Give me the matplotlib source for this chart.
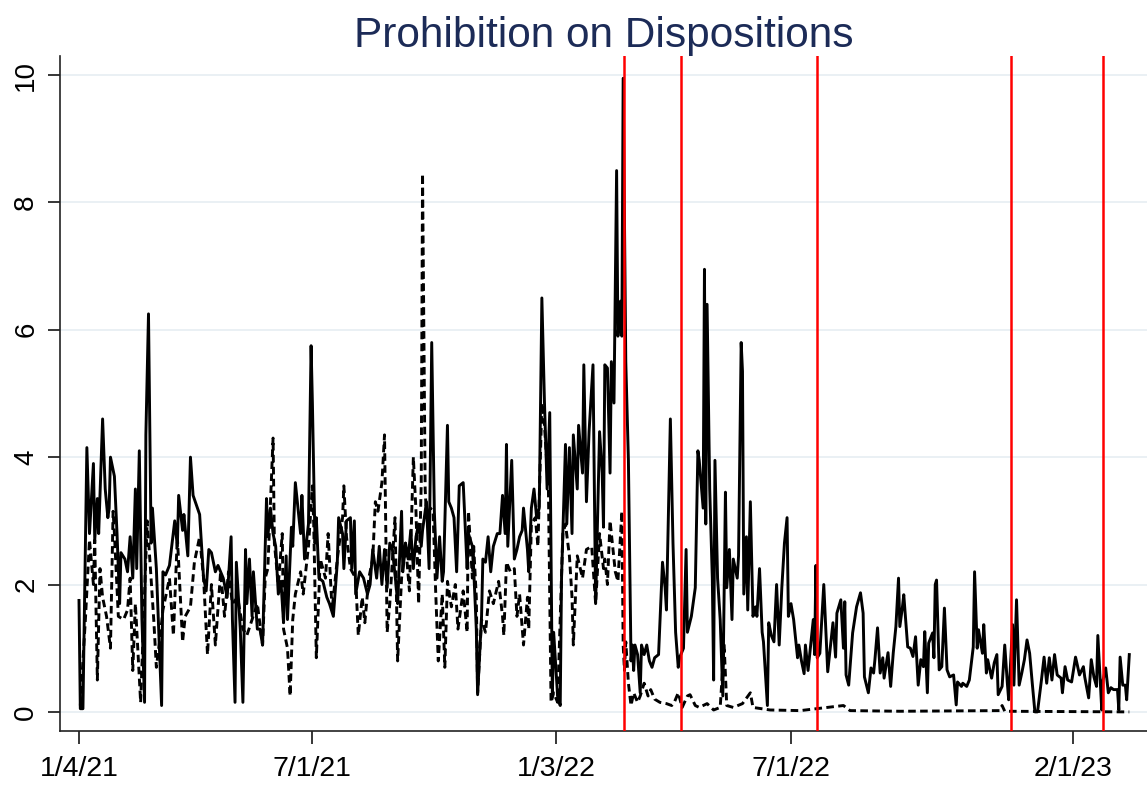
import matplotlib
matplotlib.use("Agg")
import matplotlib.pyplot as plt
import pandas as pd
import numpy as np

plt.rcParams['font.family'] = ['Liberation Sans', 'DejaVu Sans']

start = pd.Timestamp('2021-01-04')

# Solid series: days since 1/4/21 and values
solid_day = [0, 1, 3, 6, 8, 11, 12, 14, 15, 18, 20, 22, 23, 24, 27, 29, 31, 32, 35, 37, 39, 41, 43, 44, 46, 48, 50, 51, 53, 55,
             56, 59, 63, 64, 66, 69, 73, 75, 76, 79, 80, 83, 85, 87, 92, 95, 97, 99, 101, 104, 106, 110, 113, 114, 116, 117, 119, 120, 123, 125,
             127, 128, 130, 132, 133, 136, 138, 140, 141, 143, 144, 146, 148, 150, 152, 154, 156, 158, 159, 162, 163, 165, 167, 169, 170, 172, 175, 177, 178, 180,
             181, 183, 186, 189, 191, 194, 197, 198, 201, 202, 204, 207, 208, 210, 211, 214, 217, 220, 222, 224, 227, 229, 231, 233, 235, 237, 239, 242, 243, 246,
             247, 249, 251, 253, 255, 257, 259, 261, 262, 265, 267, 269, 271, 273, 275, 277, 278, 281, 282, 284, 286, 288, 290, 293, 296, 297, 300, 301, 303, 304,
             307, 308, 310, 312, 314, 316, 319, 321, 323, 325, 326, 327, 330, 332, 334, 336, 338, 339, 342, 343, 345, 347, 349, 351, 353, 355, 357, 359, 361, 362,
             365, 367, 368, 371, 372, 374, 376, 377, 380, 381, 384, 385, 387, 389, 392, 394, 396, 397, 399, 400, 401, 403, 405, 406, 408, 410, 411, 413, 414, 415,
             417, 419, 421, 422, 423, 424, 426, 428, 429, 431, 433, 435, 437, 439, 442, 445, 447, 448, 451, 453, 455, 457, 458, 461, 463, 464, 467, 470, 472, 473,
             476, 477, 478, 479, 481, 483, 484, 485, 487, 489, 491, 493, 494, 496, 498, 499, 502, 503, 505, 506, 507, 509, 510, 512, 514, 516, 517, 519, 521, 522,
             525, 526, 528, 530, 532, 534, 536, 538, 540, 541, 543, 545, 548, 549, 551, 553, 554, 556, 558, 560, 561, 562, 563, 565, 568, 571, 575, 577, 578, 581,
             583, 584, 585, 587, 590, 593, 596, 598, 599, 602, 604, 606, 607, 609, 611, 613, 614, 617, 619, 621, 623, 625, 626, 628, 629, 632, 634, 636, 638, 640,
             642, 644, 645, 647, 648, 651, 652, 653, 654, 656, 658, 660, 662, 664, 667, 669, 670, 673, 674, 677, 679, 682, 683, 685, 686, 689, 690, 692, 693, 696,
             698, 700, 701, 704, 706, 708, 709, 712, 713, 715, 717, 719, 721, 723, 725, 727, 729, 731, 734, 736, 738, 740, 742, 744, 746, 749, 750, 752, 754, 757,
             760, 761, 763, 766, 767, 770, 772, 774, 776, 777, 780, 781, 783, 785, 787, 789, 792, 793, 794, 796, 798, 799, 801]
solid_val = [1.75, 0.05, 0.05, 4.15, 2.8, 3.9, 2.7, 3.35, 2.8, 4.6, 3.5, 3.05, 3.2, 4.0, 3.7, 2.8, 1.7, 2.5, 2.4, 2.2, 2.75, 2.1, 3.5, 2.25, 4.1, 1.45, 0.15, 4.35, 6.25, 2.65,
             3.2, 2.25, 0.1, 2.2, 2.15, 2.3, 3.0, 2.6, 3.4, 2.85, 3.1, 2.45, 4.0, 3.4, 3.1, 2.1, 1.9, 2.55, 2.5, 2.2, 2.3, 2.1, 1.8, 2.1, 2.75, 1.45, 0.15, 2.35, 1.3, 0.15,
             2.55, 1.7, 2.4, 1.5, 2.2, 1.3, 1.3, 1.05, 1.8, 3.35, 2.75, 3.2, 2.8, 2.6, 1.85, 2.05, 1.4, 2.45, 1.45, 2.9, 2.6, 3.6, 3.2, 2.8, 3.4, 2.4, 2.95, 5.75, 4.85, 2.65,
             3.05, 2.1, 2.05, 1.8, 1.7, 1.5, 2.35, 3.05, 2.8, 2.25, 3.0, 3.05, 2.25, 3.0, 1.85, 2.2, 2.1, 1.85, 2.0, 2.55, 2.1, 2.6, 2.0, 2.55, 1.95, 2.65, 2.55, 1.95, 1.7, 3.15,
             2.2, 2.65, 2.4, 2.85, 2.25, 2.75, 2.95, 2.6, 2.85, 3.3, 2.25, 5.8, 3.15, 2.1, 2.75, 2.05, 2.2, 4.5, 3.3, 3.2, 3.05, 2.2, 3.55, 3.6, 2.25, 2.8, 2.6, 2.25, 1.3, 0.27,
             1.5, 2.4, 2.35, 2.75, 2.2, 2.6, 2.8, 2.8, 3.4, 2.8, 4.2, 2.6, 3.95, 2.4, 2.55, 2.75, 2.85, 3.2, 2.55, 2.2, 3.2, 3.5, 3.05, 3.2, 6.5, 4.85, 3.5, 4.7, 0.25, 1.25,
             0.25, 0.1, 2.1, 4.2, 2.95, 4.15, 2.8, 4.35, 3.5, 4.5, 3.75, 5.45, 3.3, 4.4, 5.45, 1.7, 3.5, 4.4, 3.75, 2.9, 5.45, 5.4, 3.75, 5.5, 4.85, 8.5, 5.9, 6.45, 5.9, 9.95,
             5.5, 3.95, 0.8, 1.05, 0.65, 1.05, 0.9, 0.3, 1.05, 0.9, 1.05, 0.8, 0.7, 0.85, 0.9, 2.35, 1.95, 1.6, 4.6, 2.65, 1.25, 0.7, 0.85, 1.0, 2.55, 1.25, 1.5, 1.95, 4.1, 3.95,
             3.2, 6.95, 2.95, 6.4, 3.5, 2.1, 0.5, 3.95, 2.1, 1.45, 0.25, 3.45, 1.95, 2.55, 1.45, 2.4, 2.1, 2.45, 5.8, 5.35, 1.85, 2.75, 1.6, 3.3, 1.5, 1.65, 1.5, 2.25, 1.25, 1.1,
             0.1, 1.4, 1.2, 1.1, 2.0, 1.05, 1.95, 2.65, 3.05, 1.5, 1.7, 1.45, 0.85, 1.05, 0.8, 0.6, 1.05, 0.65, 1.05, 1.45, 0.9, 2.3, 0.85, 0.92, 2.0, 0.63, 1.4, 0.86, 1.55, 1.76,
             1.0, 1.73, 0.58, 0.42, 1.24, 1.65, 1.87, 1.55, 0.55, 0.3, 0.69, 0.61, 0.82, 1.32, 0.61, 0.85, 0.53, 0.93, 0.4, 0.93, 1.34, 2.1, 1.34, 1.65, 1.84, 1.02, 1.0, 0.87, 1.18, 0.42,
             0.82, 0.71, 1.26, 0.3, 1.08, 1.24, 0.85, 2.0, 2.07, 0.66, 0.71, 1.63, 0.66, 0.55, 0.58, 0.11, 0.47, 0.4, 0.45, 0.4, 0.5, 1.02, 2.2, 1.0, 1.29, 0.92, 1.37, 0.61, 0.82, 0.53,
             0.77, 0.9, 0.27, 0.4, 1.05, 0.45, 0.19, 1.37, 0.42, 1.76, 0.42, 0.61, 0.82, 1.13, 0.92, 0.45, 0.0, 0.0, 0.5, 0.86, 0.45, 0.85, 0.5, 0.9, 0.58, 0.53, 0.3, 0.71, 0.5, 0.47,
             0.86, 0.77, 0.58, 0.71, 0.55, 0.22, 0.82, 0.55, 0.4, 1.2, 0.03, 0.5, 0.69, 0.3, 0.38, 0.35, 0.35, 0.03, 0.86, 0.42, 0.42, 0.19, 0.9]

# Dashed series: days since 1/4/21 and values
dash_day = [1, 5, 8, 11, 12, 14, 16, 18, 21, 24, 26, 27, 30, 34, 37, 39, 41, 43, 47, 52, 54, 57, 59, 62, 64, 66, 69, 72, 75, 79,
            81, 85, 88, 92, 95, 98, 101, 104, 108, 111, 114, 117, 121, 125, 128, 132, 136, 140, 142, 144, 148, 149, 152, 155, 156, 159, 161, 163, 165, 169,
            171, 175, 178, 179, 181, 184, 188, 190, 193, 197, 201, 202, 204, 207, 211, 213, 216, 218, 221, 224, 226, 228, 231, 233, 235, 237, 241, 243, 246, 249,
            252, 255, 257, 259, 261, 262, 264, 265, 268, 270, 272, 274, 277, 279, 281, 284, 287, 289, 293, 296, 297, 300, 301, 303, 304, 307, 310, 313, 316, 320,
            323, 324, 326, 329, 332, 334, 336, 339, 342, 343, 345, 348, 350, 353, 355, 358, 360, 362, 365, 369, 371, 374, 376, 377, 380, 384, 387, 391, 394, 397,
            400, 401, 403, 405, 407, 409, 411, 414, 415, 416, 417, 419, 421, 423, 426, 428, 431, 434, 436, 439, 443, 448, 452, 454, 457, 460, 464, 466, 470, 473,
            479, 484, 489, 492, 494, 499, 506, 512, 514, 527, 550, 583, 588, 626, 702, 704, 706, 801]
dash_val = [0.1, 1.5, 2.7, 2.0, 2.7, 0.5, 2.25, 1.8, 1.5, 1.0, 3.15, 2.8, 1.5, 1.45, 1.6, 2.1, 0.65, 1.7, 0.15, 3.0, 2.4, 1.45, 0.7, 1.2, 1.6, 1.8, 2.1, 1.2, 2.75, 1.1,
            1.5, 1.65, 2.35, 2.75, 2.1, 0.9, 2.0, 1.05, 2.2, 1.5, 2.2, 1.7, 1.8, 1.3, 1.2, 1.45, 1.7, 1.05, 2.1, 2.25, 4.3, 2.65, 2.0, 2.8, 1.3, 1.0, 0.25, 1.45, 1.85, 2.2,
            1.85, 2.6, 3.55, 2.95, 0.85, 2.4, 2.1, 2.8, 1.6, 2.4, 3.05, 3.55, 2.75, 2.25, 2.1, 1.2, 1.8, 1.4, 2.1, 2.4, 3.3, 3.15, 3.6, 4.35, 1.25, 1.7, 3.05, 0.8, 2.1, 2.65,
            1.9, 4.0, 3.15, 1.7, 3.6, 8.45, 3.5, 3.05, 3.2, 3.15, 1.9, 0.8, 1.85, 0.7, 2.05, 1.65, 2.0, 1.3, 1.9, 1.25, 3.15, 2.1, 2.6, 1.8, 0.3, 1.45, 1.25, 1.9, 1.7, 2.05,
            1.5, 1.2, 2.35, 2.2, 2.25, 1.5, 1.85, 1.05, 1.8, 1.3, 2.95, 3.05, 2.6, 4.85, 4.5, 3.5, 0.15, 0.3, 0.15, 2.8, 2.95, 2.45, 1.8, 1.05, 2.45, 2.1, 2.55, 2.6, 1.7, 2.8,
            2.25, 2.4, 2.0, 3.0, 2.6, 2.2, 2.05, 3.15, 1.05, 0.65, 1.1, 0.45, 0.1, 0.3, 0.15, 0.25, 0.45, 0.25, 0.35, 0.2, 0.15, 0.13, 0.1, 0.15, 0.3, 0.07, 0.25, 0.27, 0.1, 0.07,
            0.13, 0.03, 0.07, 1.05, 0.1, 0.07, 0.13, 0.3, 0.07, 0.03, 0.02, 0.1, 0.02, 0.01, 0.02, 0.1, 0.01, 0.0]

event_dates = ['2022-02-24', '2022-04-08', '2022-07-21', '2022-12-16', '2023-02-24']
tick_dates = ['2021-01-04', '2021-07-01', '2022-01-03', '2022-07-01', '2023-02-01']
tick_labels = ['1/4/21', '7/1/21', '1/3/22', '7/1/22', '2/1/23']
title = 'Prohibition on Dispositions'

solid_x = start + pd.to_timedelta(solid_day, unit='D')
dash_x = start + pd.to_timedelta(dash_day, unit='D')

fig = plt.figure(figsize=(11.47, 7.85), dpi=100)
ax = fig.add_axes([0.0523, 0.0688, 0.9477, 0.8599])

ax.set_ylim(-0.3, 10.3)
ax.set_xlim(start - pd.Timedelta(days=14.5), start + pd.Timedelta(days=814.5))

for yv in range(0, 11, 2):
    ax.axhline(yv, color='#eaf0f4', lw=1.4, zorder=0)

ax.plot(dash_x, dash_val, color='black', lw=2.1, linestyle=(0, (2.6, 1.5)), zorder=2)
ax.plot(solid_x, solid_val, color='black', lw=2.1, zorder=3)

for d in event_dates:
    ax.axvline(pd.Timestamp(d), color='#ff0000', lw=1.8, zorder=4)

ax.set_yticks(range(0, 11, 2))
ax.set_yticklabels([str(v) for v in range(0, 11, 2)], rotation=90, va='center', fontsize=20)
ax.set_xticks([pd.Timestamp(d) for d in tick_dates])
ax.set_xticklabels(tick_labels, fontsize=20.5)

ax.tick_params(axis='both', direction='out', length=9, width=1.1, color='black')
ax.tick_params(axis='y', pad=6)
ax.tick_params(axis='x', pad=9)

for s in ['top', 'right']:
    ax.spines[s].set_visible(False)
for s in ['left', 'bottom']:
    ax.spines[s].set_linewidth(1.2)
    ax.spines[s].set_color('#222222')

ax.set_title(title, fontsize=30.5, color='#1c2b57', pad=6)

fig.savefig('out.png', dpi=100)
